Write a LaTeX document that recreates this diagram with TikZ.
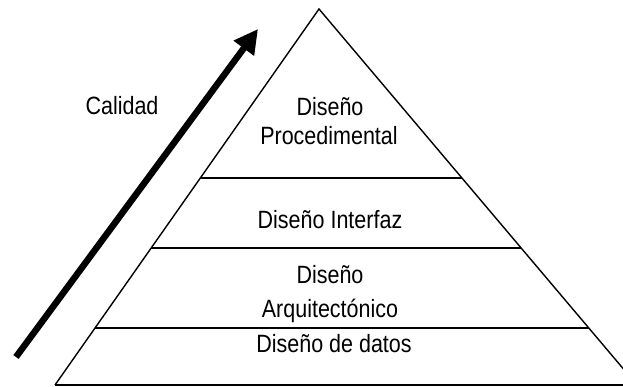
\documentclass[tikz,border=0pt]{standalone}
\usepackage{fontspec}
\setmainfont{Liberation Sans}
\usetikzlibrary{arrows.meta,calc}
\newcommand{\narrowtxt}[1]{\scalebox{0.86}[1]{#1}}
\tikzset{
  lbl/.style={anchor=base,inner sep=0pt,font=\fontsize{25}{30}\selectfont},
  edge/.style={line width=1.4pt,line join=miter},
  sep/.style={line width=1.8pt},
  quality/.style={line width=6.5pt,-{Triangle[length=24pt,width=24pt]}}
}
\begin{document}
\begin{tikzpicture}[x=1pt,y=-1pt]
\useasboundingbox (0,0) rectangle (623,387);
\clip (0,0) rectangle (623,387);
\coordinate (apex) at (319,9);
\coordinate (bl) at (55,385);
\coordinate (br) at (637,385);
\draw[edge] (bl) -- (apex) -- (br);
\draw[sep] (bl) -- (br);
\coordinate (l1) at ($(apex)!0.4495!(bl)$);
\coordinate (r1) at ($(apex)!0.4495!(br)$);
\coordinate (l2) at ($(apex)!0.6356!(bl)$);
\coordinate (r2) at ($(apex)!0.6356!(br)$);
\coordinate (l3) at ($(apex)!0.8484!(bl)$);
\coordinate (r3) at ($(apex)!0.8484!(br)$);
\draw[sep] (l1) -- (r1);
\draw[sep] (l2) -- (r2);
\draw[sep] (l3) -- (r3);
\node[lbl] (p1) at (330,116) {\narrowtxt{Diseño}};
\node[lbl] (p2) at (329,145) {\narrowtxt{Procedimental}};
\node[lbl] (i1) at (330,229) {\narrowtxt{Diseño Interfaz}};
\node[lbl] (a1) at (330,283) {\narrowtxt{Diseño}};
\node[lbl] (a2) at (330,317) {\narrowtxt{Arquitectónico}};
\node[lbl] (d1) at (334,352) {\narrowtxt{Diseño de datos}};
\node[lbl] (cal) at (122,115) {\narrowtxt{Calidad}};
\coordinate (qs) at (16,357);
\coordinate (qe) at (258,29);
\draw[quality] (qs) -- (qe);
\end{tikzpicture}
\end{document}
